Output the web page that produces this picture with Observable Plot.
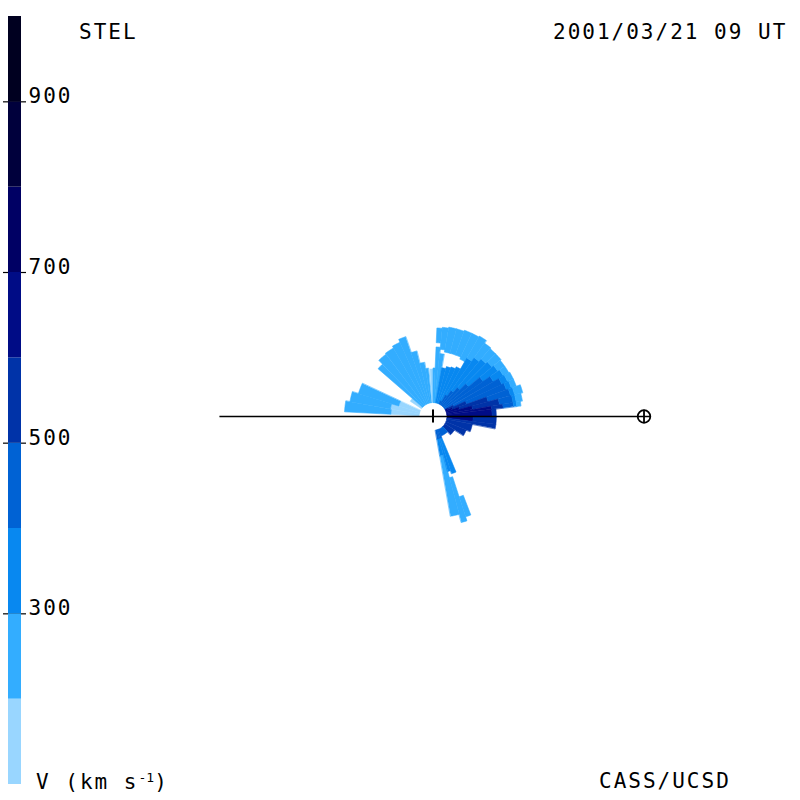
<!DOCTYPE html>
<html><head><meta charset="utf-8">
<script src="https://cdn.jsdelivr.net/npm/d3@7"></script>
<script src="https://cdn.jsdelivr.net/npm/@observablehq/plot@0.6"></script>
<style>
html,body{margin:0;padding:0;background:#fff;}
#wrap{position:relative;width:800px;height:800px;overflow:hidden;font-family:"DejaVu Sans Mono",monospace;}
#wrap svg{position:absolute;left:0;top:0;}
.lbl{position:absolute;font-size:21px;letter-spacing:2px;color:#000;white-space:nowrap;line-height:21px;}
.lbl sup{font-size:13px;letter-spacing:0;vertical-align:7px;line-height:0;}
</style></head><body>
<div id="wrap">
  <div class="lbl" style="left:79px;top:22px">STEL</div>
  <div class="lbl" style="left:553px;top:22px">2001/03/21 09 UT</div>
  <div class="lbl" style="left:36px;top:772px">V (km s<sup>-1</sup>)</div>
  <div class="lbl" style="left:599px;top:771px">CASS/UCSD</div>
</div>
<script>
// ---- colour bar ----
const bandLows   = [100, 200, 300, 400, 500, 600, 700, 800, 900];
const bandColors = ["#99d6ff", "#33adff", "#0888f0", "#0062d4", "#0033a8", "#000c86", "#000064", "#00003c", "#000020"];
const thresholds = [200, 300, 400, 500, 600, 700, 800, 900];
const tickValues = [300, 500, 700, 900];

// ---- velocity cells: [angle from, angle to (deg, CCW from Sun-Earth line), r from, r to (AU), V (km/s)] ----
const regionA = [
  [170, 177, 0.066, 0.20, 150], [170, 177, 0.20, 0.42, 250],
  [163, 170, 0.066, 0.205, 150], [163, 170, 0.205, 0.40, 250],
  [155, 163, 0.066, 0.17, 150], [155, 163, 0.17, 0.37, 250],
  [139, 146, 0.066, 0.13, 150]
];
const regionB = [
  [134, 139, 0.066, 0.345, 250],
  [127, 134, 0.066, 0.37, 250],
  [120, 127, 0.066, 0.375, 250],
  [114, 120, 0.066, 0.385, 250],
  [109, 114, 0.066, 0.40, 250],
  [104, 109, 0.066, 0.32, 250],
  [99, 104, 0.066, 0.26, 250],
  [95.5, 99, 0.066, 0.23, 250]
];
const regionC = [
  [90, 93.5, 0.066, 0.225, 150]
];
const regionD = [
  [87.5, 90, 0.066, 0.23, 250],
  [84, 87.5, 0.066, 0.33, 250], [84, 87.5, 0.35, 0.42, 250],
  [80, 84, 0.066, 0.30, 250], [80, 84, 0.32, 0.425, 250],
  [75, 80, 0.066, 0.235, 350], [75, 80, 0.31, 0.43, 250],
  [70, 75, 0.066, 0.245, 350], [70, 75, 0.31, 0.43, 250],
  [65, 70, 0.066, 0.25, 350], [65, 70, 0.31, 0.435, 250],
  [60, 65, 0.066, 0.085, 450], [60, 65, 0.085, 0.26, 350], [60, 65, 0.30, 0.435, 250],
  [55, 60, 0.066, 0.12, 450], [55, 60, 0.12, 0.32, 350], [55, 60, 0.32, 0.44, 250],
  [50, 55, 0.066, 0.15, 450], [50, 55, 0.15, 0.34, 350], [50, 55, 0.34, 0.425, 250],
  [45, 50, 0.066, 0.18, 450], [45, 50, 0.18, 0.355, 350], [45, 50, 0.355, 0.42, 250],
  [40, 45, 0.066, 0.22, 450], [40, 45, 0.22, 0.365, 350], [40, 45, 0.365, 0.42, 250],
  [35, 40, 0.066, 0.29, 450], [35, 40, 0.29, 0.375, 350], [35, 40, 0.375, 0.415, 250],
  [30, 35, 0.066, 0.33, 450], [30, 35, 0.33, 0.385, 350], [30, 35, 0.385, 0.415, 250],
  [25, 30, 0.066, 0.08, 650], [25, 30, 0.08, 0.11, 550], [25, 30, 0.11, 0.36, 450], [25, 30, 0.36, 0.39, 350], [25, 30, 0.39, 0.42, 250],
  [20, 25, 0.066, 0.10, 650], [20, 25, 0.10, 0.17, 550], [20, 25, 0.17, 0.37, 450], [20, 25, 0.37, 0.395, 350], [20, 25, 0.395, 0.42, 250],
  [15, 20, 0.066, 0.13, 650], [15, 20, 0.13, 0.27, 550], [15, 20, 0.27, 0.38, 450], [15, 20, 0.38, 0.40, 350], [15, 20, 0.40, 0.44, 250],
  [10, 15, 0.066, 0.19, 650], [10, 15, 0.19, 0.32, 550], [10, 15, 0.32, 0.385, 450], [10, 15, 0.385, 0.40, 350], [10, 15, 0.40, 0.43, 250],
  [7, 10, 0.066, 0.28, 650], [7, 10, 0.28, 0.335, 550], [7, 10, 0.335, 0.385, 450], [7, 10, 0.385, 0.40, 350], [7, 10, 0.40, 0.42, 250],
  [0, 7, 0.066, 0.28, 650], [0, 7, 0.28, 0.30, 550]
];
const regionE = [
  [-7, 0, 0.066, 0.19, 650], [-7, 0, 0.19, 0.30, 550],
  [-11, -7, 0.066, 0.30, 550],
  [-22, -11, 0.066, 0.19, 550],
  [-32, -22, 0.066, 0.17, 550],
  [-46, -32, 0.066, 0.12, 550],
  [-68, -46, 0.066, 0.10, 450]
];
const regionF = [
  [-80, -75, 0.066, 0.11, 450], [-80, -75, 0.11, 0.19, 350], [-80, -75, 0.19, 0.48, 250],
  [-75, -72, 0.066, 0.11, 450], [-75, -72, 0.11, 0.27, 350], [-75, -72, 0.30, 0.52, 250],
  [-72, -67.5, 0.066, 0.11, 450], [-72, -67.5, 0.11, 0.285, 350], [-72, -69, 0.40, 0.50, 250]
];

// ---- reference objects (AU) ----
const sunX = 0;
const earthX = 1.0;
const lineStartX = -1.01;

// build closed annular-sector outlines from the cells
function cellOutlines(rows, tag) {
  const out = [];
  const rad = Math.PI / 180;
  rows.forEach(([a0, a1, r0, r1, v], i) => {
    const id = tag + i;
    const n = Math.max(2, Math.ceil(Math.abs(a1 - a0) / 0.5));
    for (let k = 0; k <= n; k++) {
      const a = (a0 + (a1 - a0) * k / n) * rad;
      out.push({id, v, x: r1 * Math.cos(a), y: r1 * Math.sin(a)});
    }
    for (let k = n; k >= 0; k--) {
      const a = (a0 + (a1 - a0) * k / n) * rad;
      out.push({id, v, x: r0 * Math.cos(a), y: r0 * Math.sin(a)});
    }
  });
  return out;
}
const cells = [
  ...cellOutlines(regionA, "A"), ...cellOutlines(regionB, "B"), ...cellOutlines(regionC, "C"),
  ...cellOutlines(regionD, "D"), ...cellOutlines(regionE, "E"), ...cellOutlines(regionF, "F")
];

const colorOpts = {type: "threshold", domain: thresholds, range: bandColors};

const main = Plot.plot({
  width: 800, height: 800, margin: 0,
  x: {domain: [-2.05, 1.7417], axis: null},
  y: {domain: [-1.82, 1.9716], axis: null},
  color: colorOpts,
  style: {background: "transparent"},
  marks: [
    Plot.line(cells, {x: "x", y: "y", z: "id", fill: "v", stroke: "v", strokeWidth: 0.6, curve: "linear-closed"}),
    Plot.ruleY([0], {x1: lineStartX, x2: earthX + 0.031, stroke: "black", strokeWidth: 1.5}),
    Plot.ruleX([sunX], {y1: -0.031, y2: 0.031, stroke: "black", strokeWidth: 2}),
    Plot.dot([earthX], {x: d => d, y: 0, r: 6.3, stroke: "black", strokeWidth: 1.8, fill: "none"}),
    Plot.ruleX([earthX], {y1: -0.03, y2: 0.03, stroke: "black", strokeWidth: 1.8})
  ]
});

const cbar = Plot.plot({
  width: 100, height: 800,
  marginLeft: 3, marginRight: 74, marginTop: 16, marginBottom: 16,
  x: {axis: null},
  y: {domain: [100, 1000], axis: null},
  color: colorOpts,
  style: {background: "transparent", fontFamily: "DejaVu Sans Mono", letterSpacing: "2px"},
  marks: [
    Plot.ruleY(tickValues, {stroke: "black", strokeWidth: 1.2}),
    Plot.rect(bandLows, {y1: d => d, y2: d => d + 100, fill: d => d + 50, insetLeft: 5, insetRight: 5}),
    Plot.text(tickValues, {y: d => d, text: d => String(d), frameAnchor: "right", textAnchor: "start",
      lineAnchor: "bottom", dx: 2, dy: 1.5, fontSize: 21, fill: "black"})
  ]
});

const wrap = document.getElementById("wrap");
wrap.insertBefore(main, wrap.firstChild);
wrap.insertBefore(cbar, main.nextSibling);
</script>
</body></html>
